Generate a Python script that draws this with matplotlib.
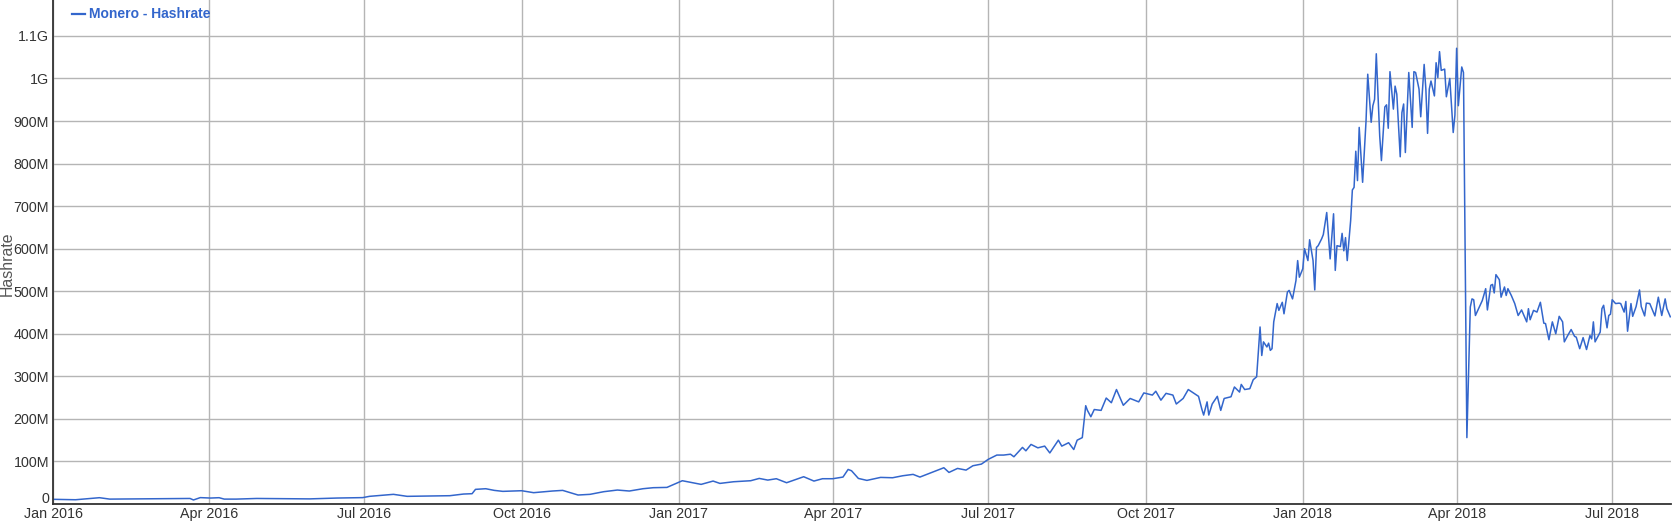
import pandas as pd
import matplotlib
matplotlib.use("Agg")
import matplotlib.pyplot as plt
import matplotlib.dates as mdates
import matplotlib.transforms as mtransforms
from matplotlib.lines import Line2D
from matplotlib.ticker import FuncFormatter

plt.rcParams['font.family'] = ['Liberation Sans', 'DejaVu Sans']

# Monero network hashrate, values in MH/s
dates_2016 = ["2016-01-01", "2016-01-14", "2016-01-28", "2016-02-03", "2016-02-27",
              "2016-03-21", "2016-03-23", "2016-03-27", "2016-04-02", "2016-04-07",
              "2016-04-10", "2016-04-17", "2016-04-29", "2016-05-15", "2016-05-30",
              "2016-06-15", "2016-06-30", "2016-07-04", "2016-07-18", "2016-07-26",
              "2016-08-10", "2016-08-20", "2016-08-28", "2016-09-02", "2016-09-04",
              "2016-09-10", "2016-09-15", "2016-09-20", "2016-10-01", "2016-10-08",
              "2016-10-19", "2016-10-25", "2016-11-03", "2016-11-10", "2016-11-18",
              "2016-11-26", "2016-12-03", "2016-12-11", "2016-12-17", "2016-12-25",
              "2016-12-29"]
hash_2016 = [11.0, 10.0, 14.8, 11.5, 12.3, 13.0, 9.5, 15.0, 14.0, 14.8,
             11.5, 11.5, 13.0, 12.5, 12.0, 14.0, 15.0, 18.0, 22.7, 18.0,
             18.8, 19.5, 23.4, 24.2, 34.4, 35.9, 32.0, 29.7, 31.2, 26.6,
             30.5, 32.0, 21.1, 22.7, 28.9, 32.8, 30.5, 35.9, 38.3, 39.0,
             46.1]

dates_2017_h1 = ["2017-01-03", "2017-01-09", "2017-01-14", "2017-01-21", "2017-01-25",
                 "2017-02-02", "2017-02-12", "2017-02-17", "2017-02-22", "2017-02-27",
                 "2017-03-05", "2017-03-15", "2017-03-21", "2017-03-26", "2017-04-01",
                 "2017-04-07", "2017-04-10", "2017-04-12", "2017-04-16", "2017-04-21",
                 "2017-04-29", "2017-05-06", "2017-05-12", "2017-05-18", "2017-05-22",
                 "2017-05-30", "2017-06-05", "2017-06-08", "2017-06-13", "2017-06-18",
                 "2017-06-22", "2017-06-27"]
hash_2017_h1 = [54.7, 50, 46.1, 53.9, 48.4, 52.3, 54.7, 60.1, 56.2, 59.4,
                50, 64.1, 53.9, 59.4, 59.4, 63.3, 81.2, 78.1, 60.1, 55.5,
                62.5, 61.7, 66.4, 69.6, 63.3, 75.8, 85.2, 74.2, 83.6, 79.7,
                89.9, 93.8]

dates_2017_h2 = ["2017-07-01", "2017-07-06", "2017-07-10", "2017-07-14", "2017-07-16",
                 "2017-07-21", "2017-07-23", "2017-07-26", "2017-07-30", "2017-08-03",
                 "2017-08-06", "2017-08-11", "2017-08-13", "2017-08-17", "2017-08-20",
                 "2017-08-22", "2017-08-25", "2017-08-27", "2017-08-28", "2017-08-30",
                 "2017-09-01", "2017-09-05", "2017-09-08", "2017-09-11", "2017-09-14",
                 "2017-09-18", "2017-09-22", "2017-09-27", "2017-09-30", "2017-10-05",
                 "2017-10-07", "2017-10-10", "2017-10-13", "2017-10-17", "2017-10-19",
                 "2017-10-23", "2017-10-26", "2017-11-01", "2017-11-03", "2017-11-04",
                 "2017-11-06", "2017-11-07", "2017-11-09", "2017-11-12", "2017-11-14",
                 "2017-11-16", "2017-11-20", "2017-11-22", "2017-11-25", "2017-11-26",
                 "2017-11-28", "2017-12-01", "2017-12-03", "2017-12-05", "2017-12-07",
                 "2017-12-08", "2017-12-09", "2017-12-11", "2017-12-12", "2017-12-13",
                 "2017-12-14", "2017-12-15", "2017-12-17", "2017-12-18", "2017-12-20",
                 "2017-12-21", "2017-12-23", "2017-12-24", "2017-12-26", "2017-12-28",
                 "2017-12-29", "2017-12-30"]
hash_2017_h2 = [105, 115, 115, 117, 111, 133, 125, 140, 132, 136,
                120, 150, 136, 144, 128, 150, 156, 231, 220, 205,
                222, 220, 249, 238, 269, 232, 248, 240, 261, 256,
                265, 244, 260, 256, 235, 248, 269, 253, 222, 209,
                240, 209, 235, 253, 220, 248, 252, 275, 263, 281,
                269, 271, 292, 299, 416, 349, 381, 369, 378, 361,
                365, 428, 471, 455, 474, 447, 498, 502, 482, 525,
                572, 533]

dates_2018_q1 = ["2018-01-01", "2018-01-02", "2018-01-04", "2018-01-05", "2018-01-07",
                 "2018-01-08", "2018-01-09", "2018-01-10", "2018-01-12", "2018-01-13",
                 "2018-01-15", "2018-01-17", "2018-01-19", "2018-01-20", "2018-01-21",
                 "2018-01-23", "2018-01-24", "2018-01-25", "2018-01-26", "2018-01-27",
                 "2018-01-29", "2018-01-30", "2018-01-31", "2018-02-01", "2018-02-02",
                 "2018-02-03", "2018-02-05", "2018-02-07", "2018-02-08", "2018-02-10",
                 "2018-02-11", "2018-02-12", "2018-02-13", "2018-02-15", "2018-02-16",
                 "2018-02-18", "2018-02-19", "2018-02-20", "2018-02-21", "2018-02-23",
                 "2018-02-24", "2018-02-25", "2018-02-27", "2018-02-28", "2018-03-01",
                 "2018-03-02", "2018-03-04", "2018-03-05", "2018-03-06", "2018-03-07",
                 "2018-03-08", "2018-03-10", "2018-03-11", "2018-03-13", "2018-03-14",
                 "2018-03-15", "2018-03-16", "2018-03-17", "2018-03-19", "2018-03-20",
                 "2018-03-21", "2018-03-22", "2018-03-23", "2018-03-25", "2018-03-26",
                 "2018-03-28", "2018-03-30", "2018-03-31"]
hash_2018_q1 = [553, 600, 572, 621, 572, 503, 603, 607, 623, 633,
                685, 576, 682, 549, 607, 605, 636, 595, 626, 572,
                666, 738, 744, 829, 760, 885, 756, 900, 1010, 897,
                936, 951, 1058, 865, 807, 933, 938, 883, 1016, 928,
                982, 963, 816, 920, 940, 826, 1014, 951, 885, 1016,
                1014, 975, 910, 1033, 975, 871, 975, 994, 959, 1037,
                1002, 1063, 1019, 1022, 957, 1000, 873, 914]

dates_2018_q2 = ["2018-04-01", "2018-04-02", "2018-04-04", "2018-04-05", "2018-04-07",
                 "2018-04-09", "2018-04-10", "2018-04-11", "2018-04-12", "2018-04-16",
                 "2018-04-18", "2018-04-19", "2018-04-21", "2018-04-22", "2018-04-23",
                 "2018-04-24", "2018-04-26", "2018-04-27", "2018-04-29", "2018-04-30",
                 "2018-05-01", "2018-05-03", "2018-05-05", "2018-05-07", "2018-05-09",
                 "2018-05-12", "2018-05-13", "2018-05-14", "2018-05-16", "2018-05-18",
                 "2018-05-20", "2018-05-22", "2018-05-23", "2018-05-25", "2018-05-27",
                 "2018-05-29", "2018-05-31", "2018-06-02", "2018-06-03", "2018-06-05",
                 "2018-06-07", "2018-06-09", "2018-06-10", "2018-06-12", "2018-06-14",
                 "2018-06-16", "2018-06-18", "2018-06-19", "2018-06-20", "2018-06-21",
                 "2018-06-24", "2018-06-25", "2018-06-26", "2018-06-28", "2018-06-29",
                 "2018-06-30", "2018-07-01", "2018-07-03", "2018-07-05", "2018-07-06",
                 "2018-07-08", "2018-07-09", "2018-07-10", "2018-07-12", "2018-07-13",
                 "2018-07-15", "2018-07-17", "2018-07-18", "2018-07-20", "2018-07-21",
                 "2018-07-23", "2018-07-26", "2018-07-28", "2018-07-30", "2018-08-01",
                 "2018-08-02", "2018-08-04"]
hash_2018_q2 = [1071, 936, 1027, 1014, 156, 463, 482, 480, 443, 478,
                506, 456, 514, 516, 496, 539, 527, 486, 510, 490,
                506, 490, 471, 443, 456, 428, 459, 433, 455, 451,
                474, 425, 424, 386, 428, 400, 441, 428, 381, 396,
                410, 394, 392, 365, 391, 363, 396, 388, 428, 381,
                404, 459, 467, 414, 443, 446, 480, 471, 472, 471,
                451, 476, 406, 471, 441, 464, 503, 464, 442, 472,
                471, 442, 486, 443, 482, 459, 440]

y_ticks = [0, 100, 200, 300, 400, 500, 600, 700, 800, 900, 1000, 1100]
series_name = "Monero - Hashrate"
y_title = "Hashrate"

dates = pd.to_datetime(dates_2016 + dates_2017_h1 + dates_2017_h2 + dates_2018_q1 + dates_2018_q2)
hashrate = hash_2016 + hash_2017_h1 + hash_2017_h2 + hash_2018_q1 + hash_2018_q2

W, H = 1676, 523
fig = plt.figure(figsize=(W / 100, H / 100), dpi=100)
left, right, bottom = 53.3, 1671, 504
ax = fig.add_axes([left / W, (H - bottom) / H, (right - left) / W, bottom / H])

line_color = '#3366CC'
label_color = '#333333'
ax.plot(dates, hashrate, color=line_color, linewidth=1.1, solid_joinstyle='round')

ax.set_xlim(pd.Timestamp("2016-01-01"), pd.Timestamp("2018-08-04 10:00"))
ax.set_ylim(0, 1184.4)

def fmt_hash(v, pos):
    # the zero label is drawn by hand a little above the axis line
    if v == 0:
        return ""
    if v >= 1000:
        return f"{v / 1000:g}G"
    return f"{v:g}M"

ax.set_yticks(y_ticks)
ax.yaxis.set_major_formatter(FuncFormatter(fmt_hash))
ax.xaxis.set_major_locator(mdates.MonthLocator(bymonth=[1, 4, 7, 10]))
ax.xaxis.set_major_formatter(mdates.DateFormatter('%b %Y'))

ax.grid(True, color='#b5b5b5', linewidth=1.0)
ax.set_axisbelow(True)
ax.tick_params(length=0, labelsize=10.3, colors=label_color)
ax.tick_params(axis='y', pad=3)
ax.tick_params(axis='x', pad=2)

zero_tr = mtransforms.offset_copy(ax.get_yaxis_transform(), fig=fig, x=-4, y=5, units='dots')
ax.text(0, 0, "0", transform=zero_tr, ha='right', va='center',
        fontsize=10.3, color=label_color)

for side in ['top', 'right']:
    ax.spines[side].set_visible(False)
ax.spines['left'].set_color('#333333')
ax.spines['bottom'].set_color('#333333')
ax.spines['left'].set_linewidth(1.3)
ax.spines['bottom'].set_linewidth(1.3)

# y title and legend placed like the original
fig.text(7.5 / W, 1 - 264 / H, y_title, rotation=90, ha='center', va='center',
         fontsize=11.4, color='#555555')
fig.add_artist(Line2D([71.5 / W, 85 / W], [1 - 14 / H, 1 - 14 / H],
                      color=line_color, linewidth=1.6))
fig.text(89 / W, 1 - 14 / H, series_name, ha='left', va='center',
         fontsize=10, fontweight='bold', color=line_color)

fig.savefig('out.png', dpi=100)
